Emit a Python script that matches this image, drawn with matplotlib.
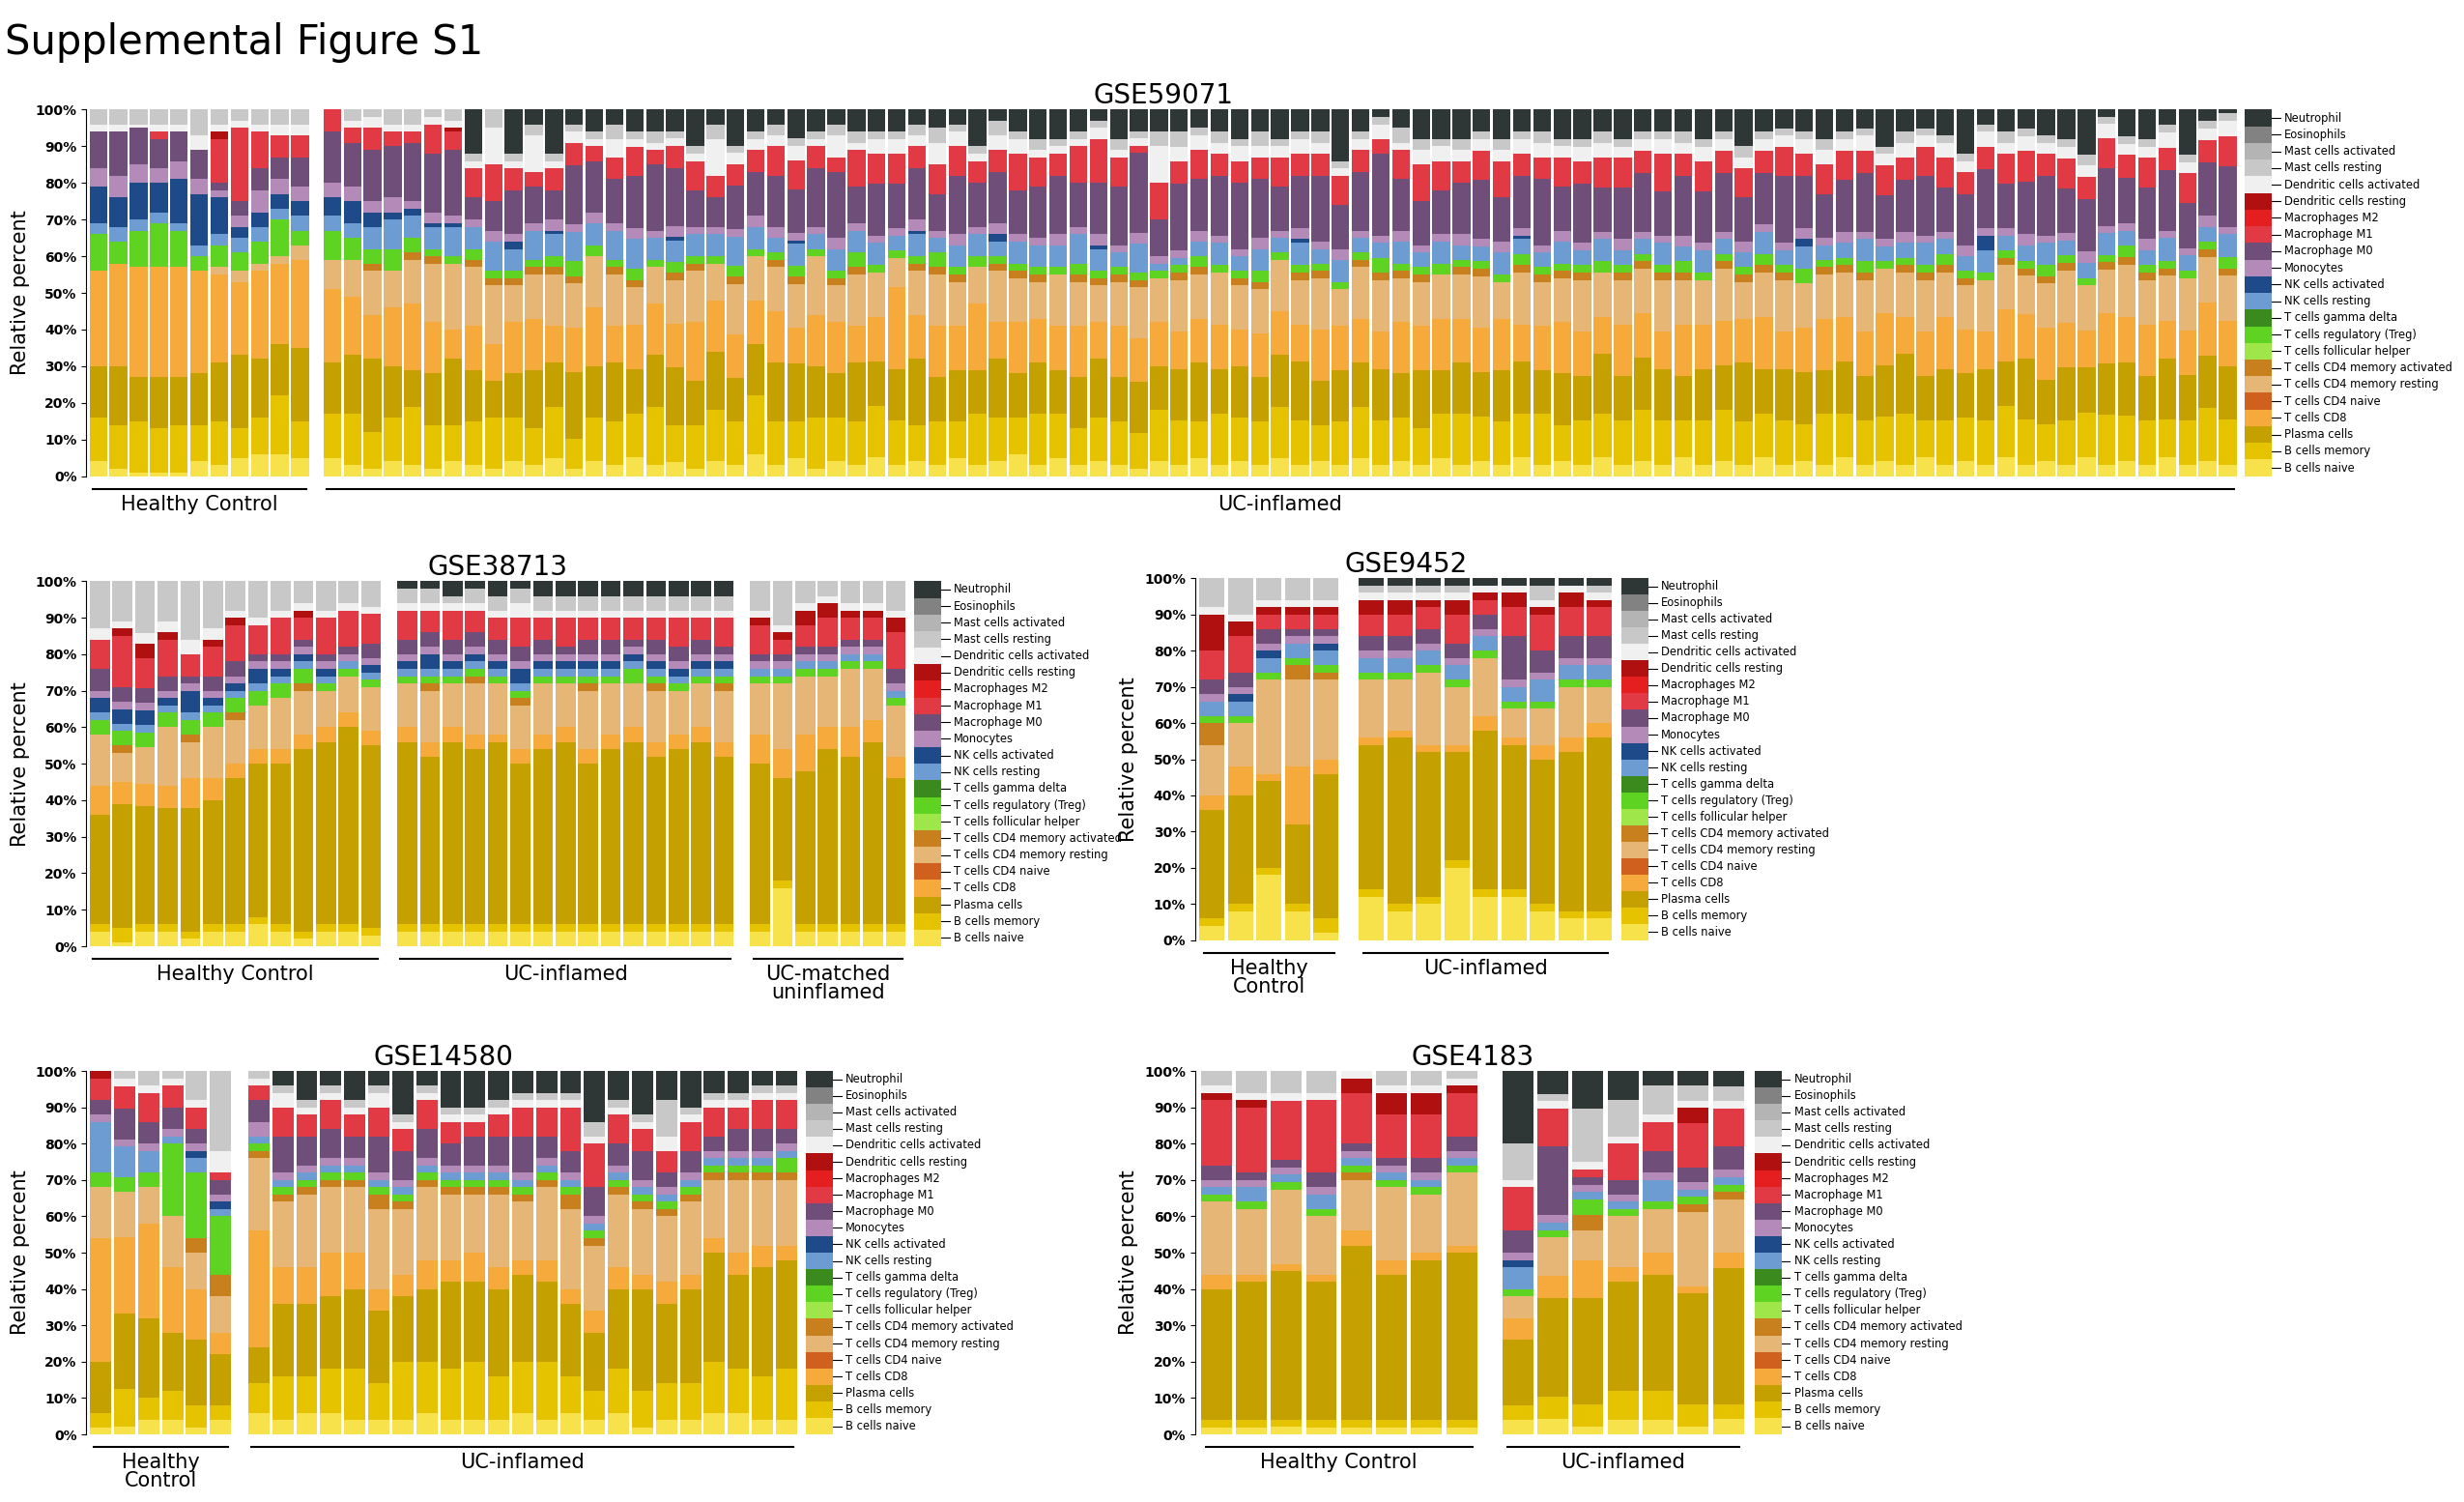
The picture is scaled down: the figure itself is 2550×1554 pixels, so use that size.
import matplotlib
matplotlib.use("Agg")
import matplotlib.pyplot as plt
import numpy as np

CELLS = ["B cells naive", "B cells memory", "Plasma cells", "T cells CD8", "T cells CD4 naive",
         "T cells CD4 memory resting", "T cells CD4 memory activated", "T cells follicular helper",
         "T cells regulatory (Treg)", "T cells gamma delta", "NK cells resting", "NK cells activated",
         "Monocytes", "Macrophage M0", "Macrophage M1", "Macrophages M2", "Dendritic cells resting",
         "Dendritic cells activated", "Mast cells resting", "Mast cells activated", "Eosinophils", "Neutrophil"]
COLORS = ["#f7e24c", "#e6c300", "#c4a000", "#f7aa3c", "#d0601e", "#e6b677", "#c8801e", "#9ee64a",
          "#5fd322", "#3a8a1e", "#6c9cd2", "#1f4a8a", "#b48ab8", "#6f4f7a", "#e23a44", "#e51f1f",
          "#b01010", "#f0f0f0", "#c8c8c8", "#b4b4b4", "#828282", "#2e3636"]
# per-bar columns (estimates): Bn Bm Pl CD8 CD4r CD4a Treg NKr NKa Mo M0 M1 DCr DCa Mast Neut
COLS = [0, 1, 2, 3, 5, 6, 8, 10, 11, 12, 13, 14, 16, 17, 18, 21]

gse59071_hc = [
    [4,12,14,26,0,0,10,3,10,5,10,0,0,2,4,0], [2,12,16,28,0,0,6,4,8,6,12,0,0,2,4,0],
    [1,14,12,30,0,0,10,3,10,5,10,0,0,1,4,0], [1,12,14,30,0,0,12,3,8,4,8,2,0,2,4,0],
    [1,13,13,30,0,0,10,2,12,5,8,0,0,2,4,0], [4,10,14,28,0,0,4,3,14,4,8,0,0,4,7,0],
    [3,12,16,24,2,0,6,3,10,2,2,12,2,2,4,0], [5,8,20,20,3,0,5,4,3,3,4,20,0,2,3,0],
    [6,10,16,24,2,0,6,4,4,6,6,10,0,2,4,0], [6,16,14,22,2,0,10,3,4,4,6,6,0,3,4,0],
    [5,10,20,24,4,0,4,4,4,4,8,6,0,3,4,0]]
gse59071_uc = [
    [5,12,14,20,8,0,8,4,5,4,14,6,0,0,0,0], [3,14,16,16,10,0,6,4,6,4,12,4,0,2,3,0],
    [2,10,20,12,12,2,4,6,4,3,14,6,0,3,2,0], [4,12,14,16,10,0,6,8,2,4,14,4,0,2,4,0],
    [3,16,10,18,12,2,4,6,2,2,16,3,0,2,4,0], [2,12,14,14,16,2,2,6,1,3,16,8,0,2,2,0],
    [4,10,18,8,18,0,2,8,1,2,18,5,1,2,3,0], [3,12,14,12,16,2,3,6,0,2,6,8,0,2,2,12],
    [2,14,10,10,16,2,2,8,0,3,8,10,0,10,5,0], [4,12,12,14,10,2,2,6,2,2,12,6,0,2,2,12],
    [3,10,16,14,12,2,2,8,0,2,10,4,0,10,3,4], [5,14,12,10,14,2,3,6,1,3,8,6,0,2,2,12],
    [2,8,18,12,12,2,4,8,0,2,16,6,0,3,2,4], [4,12,14,16,14,0,3,6,0,3,14,4,0,2,2,6],
    [3,12,16,10,14,2,2,8,0,2,12,6,0,5,4,4], [5,12,12,12,10,2,3,8,0,3,14,8,0,2,2,6],
    [3,16,14,14,10,0,2,6,0,2,18,4,0,2,3,6], [4,10,16,12,12,2,3,6,1,3,16,6,0,2,2,6],
    [2,12,12,16,14,2,2,6,0,2,10,8,0,2,2,10], [4,14,16,14,10,0,2,6,0,2,8,6,0,10,4,4],
    [3,12,12,12,14,2,3,8,0,2,12,6,0,3,2,10], [6,16,14,12,12,0,2,6,0,3,12,6,0,3,2,6],
    [3,12,16,14,12,2,2,4,0,3,14,8,0,3,3,4], [5,10,16,10,12,2,3,6,1,2,12,8,0,4,2,8],
    [2,14,14,14,16,0,2,4,0,2,16,6,0,2,2,6], [4,12,12,14,10,2,2,6,0,3,18,4,0,6,3,4],
    [3,12,16,10,14,2,4,6,0,2,10,10,0,2,3,6], [5,14,12,12,12,0,2,6,0,2,14,8,0,4,2,6],
    [3,12,14,22,8,0,2,4,0,2,12,8,0,4,2,6], [4,10,18,12,12,2,2,6,1,3,14,6,0,3,3,4],
    [3,12,12,14,14,2,4,4,0,2,10,8,0,6,4,5], [5,10,14,12,12,2,2,6,0,3,16,8,0,4,2,4],
    [3,14,12,18,10,0,3,6,0,2,12,6,0,2,2,10], [4,12,16,10,14,2,2,4,2,3,14,6,0,4,4,3],
    [6,10,12,14,12,2,2,6,0,2,12,10,0,4,2,6], [3,14,14,12,10,2,2,6,0,2,14,8,0,2,3,8],
    [5,12,12,12,14,0,2,6,0,3,16,6,0,2,2,8], [3,10,14,14,12,2,3,8,0,2,12,10,0,2,2,6],
    [4,12,16,10,10,2,2,6,1,3,14,12,0,3,2,3], [3,12,12,14,12,2,2,4,0,2,16,8,0,2,3,8],
    [2,10,14,12,14,2,2,8,0,3,22,2,0,2,2,6], [4,14,12,12,12,0,2,2,0,2,10,10,0,10,4,6],
    [3,12,14,10,14,2,2,2,0,2,18,6,0,4,4,6], [5,10,16,12,12,2,3,4,0,3,14,8,0,4,2,5],
    [3,14,12,12,14,0,2,6,0,2,16,6,0,3,3,6], [4,12,14,10,12,2,2,4,0,2,18,6,0,4,2,8],
    [3,12,12,12,12,2,3,6,0,3,16,6,0,3,4,6], [5,14,14,12,14,0,2,4,0,2,12,8,0,3,2,8],
    [3,12,16,10,12,2,2,6,1,3,14,6,0,4,2,6], [4,10,12,14,14,2,2,4,0,2,18,6,0,3,3,6],
    [3,12,14,12,10,0,2,6,0,3,12,8,0,2,2,14], [5,14,12,12,14,2,2,4,0,2,16,6,0,3,2,6],
    [3,12,14,10,14,2,4,4,0,2,22,4,0,4,2,2], [4,12,12,14,12,2,2,6,0,3,14,8,0,2,4,5],
    [3,10,16,12,12,2,2,4,0,2,12,10,0,4,3,8], [5,12,12,14,12,0,3,6,0,2,12,8,0,4,2,8],
    [3,14,14,12,12,2,2,4,0,3,14,6,0,3,3,8], [4,12,12,12,14,2,2,4,0,2,16,8,0,3,2,6],
    [3,12,14,14,10,0,2,6,0,3,12,10,0,3,3,8], [5,12,14,10,14,2,3,4,1,2,14,6,0,4,2,6],
    [3,14,12,12,12,2,2,4,0,2,18,6,0,4,3,6], [4,10,14,14,12,2,2,6,0,3,12,8,0,3,2,8],
    [3,12,12,12,14,2,2,4,0,2,16,6,0,4,2,8], [5,12,16,10,12,0,3,6,0,2,12,8,0,4,3,6],
    [3,12,12,14,12,2,2,4,0,3,14,8,0,3,2,8], [4,14,14,12,12,2,2,4,0,2,16,6,0,3,2,6],
    [3,12,14,10,14,2,2,6,0,2,12,10,0,4,2,6], [5,10,12,14,12,2,3,4,0,3,16,6,0,3,3,6],
    [3,12,14,12,12,0,2,6,0,2,14,8,0,4,2,8], [4,14,12,12,14,2,2,4,0,2,16,6,0,3,2,6],
    [3,12,16,12,10,2,2,4,0,3,12,8,0,3,3,10], [5,12,12,14,12,2,3,6,0,2,14,6,0,3,2,6],
    [3,12,14,10,14,2,2,4,0,2,18,8,0,3,2,5], [4,10,14,12,12,0,4,6,2,3,14,6,0,4,2,6],
    [3,14,12,14,12,2,2,4,0,2,12,8,0,4,3,8], [5,12,14,12,12,2,2,4,0,3,14,8,0,3,2,6],
    [3,12,12,12,14,2,3,6,0,2,16,6,0,4,2,5], [4,12,14,14,12,0,2,4,0,2,12,8,0,3,2,10],
    [3,14,16,10,12,2,2,4,0,3,14,6,0,4,3,6], [5,10,12,12,14,2,2,6,0,2,16,8,0,3,2,5],
    [3,12,14,14,12,2,3,4,0,2,12,8,0,4,2,7], [4,12,12,12,12,2,2,4,0,3,14,6,0,3,2,12],
    [3,12,14,10,14,0,2,6,4,2,16,6,0,4,2,4], [5,14,12,14,12,2,2,4,0,2,12,8,0,3,3,6],
    [3,12,16,12,10,2,2,4,0,3,14,8,0,4,2,5], [4,10,12,14,12,2,3,6,0,2,16,6,0,3,2,7],
    [3,12,14,12,14,2,2,4,0,2,12,8,0,3,2,8], [5,12,12,10,12,0,2,4,0,3,14,6,0,3,3,12],
    [3,14,14,14,12,2,2,6,0,2,16,8,0,4,2,2], [4,12,14,12,14,2,3,4,0,2,12,6,0,3,2,7],
    [3,12,12,14,12,2,2,4,0,3,14,8,0,3,2,8], [5,10,16,10,12,2,2,6,0,2,16,6,0,4,2,4],
    [3,12,12,12,14,0,2,4,0,2,12,8,0,3,2,12], [4,14,14,14,12,2,2,4,0,3,14,6,0,3,2,3],
    [3,12,14,12,12,2,3,6,0,2,16,8,0,4,2,1]]

gse38713_hc = [
    [4,2,30,8,14,0,4,2,4,2,6,8,0,3,13,0], [1,4,34,6,8,2,4,2,4,2,4,14,2,2,11,0],
    [4,2,32,6,10,0,4,2,4,2,4,8,4,3,14,0], [4,2,32,6,16,0,4,2,2,2,4,10,2,3,11,0],
    [2,2,34,8,10,2,4,2,6,2,2,6,0,4,16,0], [4,2,34,6,14,0,4,2,2,2,4,8,2,3,13,0],
    [4,2,40,4,12,2,4,2,2,2,4,10,2,2,8,0], [6,2,42,4,12,0,4,2,4,2,2,8,0,2,10,0],
    [4,2,44,4,14,0,4,2,2,2,2,10,0,2,8,0], [2,2,50,4,12,2,4,2,2,2,2,6,2,2,6,0],
    [4,2,50,4,10,0,2,2,2,2,2,10,0,2,8,0], [4,2,54,4,10,0,2,2,0,2,2,10,0,2,6,0],
    [3,2,50,4,12,0,2,2,2,2,4,8,0,2,7,0]]
gse38713_uc = [
    [4,2,50,4,12,0,2,2,2,2,4,8,0,2,4,2], [4,2,46,4,14,2,2,2,4,2,4,6,0,2,4,2],
    [4,2,50,4,12,0,2,2,2,2,4,8,0,2,2,4], [4,2,48,4,14,2,2,2,2,2,4,6,0,2,4,2],
    [4,2,50,2,14,0,2,2,2,2,4,6,0,2,4,4], [4,2,44,4,12,2,2,2,4,2,4,8,0,4,4,2],
    [4,2,48,4,14,0,2,2,2,2,4,6,0,2,4,4], [4,2,50,4,12,0,2,2,2,2,2,8,0,2,4,4],
    [4,2,44,4,16,2,2,2,2,2,4,6,0,2,4,4], [4,2,48,4,14,0,2,2,2,2,4,6,0,2,4,4],
    [4,2,50,4,12,0,4,2,2,2,2,6,0,2,4,4], [4,2,46,4,14,2,2,2,2,2,4,6,0,2,4,4],
    [4,2,48,4,12,0,2,2,2,2,4,8,0,2,4,4], [4,2,50,4,12,0,2,2,2,2,4,6,0,2,4,4],
    [4,2,46,4,14,2,2,2,2,2,2,8,0,2,4,4]]
gse38713_um = [
    [4,2,44,8,14,0,2,2,0,2,2,8,2,2,8,0], [16,2,28,8,18,0,2,2,0,2,2,4,2,2,12,0],
    [4,2,42,10,16,0,2,2,0,2,2,6,4,2,6,0], [4,2,48,6,14,0,2,2,0,2,2,8,4,2,4,0],
    [4,2,46,8,16,0,2,2,0,2,2,6,2,2,6,0], [4,2,50,6,14,0,2,2,0,2,2,6,2,2,6,0],
    [4,2,40,6,14,0,2,2,0,2,4,10,4,2,8,0]]

gse9452_hc = [
    [4,2,30,4,14,6,2,4,0,2,4,8,10,2,8,0], [8,2,30,8,12,0,2,4,2,2,4,10,4,2,10,0],
    [18,2,24,2,26,0,2,4,2,2,4,4,2,2,6,0], [8,2,22,16,24,4,2,4,0,2,2,4,2,2,6,0],
    [2,4,40,4,22,2,2,4,2,2,2,4,2,2,6,0]]
gse9452_uc = [
    [12,2,40,2,16,0,2,4,0,2,4,6,4,2,2,2], [8,2,46,2,14,0,2,4,0,2,4,6,4,2,2,2],
    [10,2,40,2,20,0,2,4,0,2,4,6,2,2,2,2], [20,2,30,2,16,0,2,4,0,2,4,8,4,2,2,2],
    [12,2,44,4,16,0,2,4,0,2,4,4,2,2,0,2], [12,2,40,2,8,0,2,4,0,2,12,8,4,2,0,2],
    [8,2,40,4,10,0,2,6,0,2,6,10,2,2,4,2], [6,2,44,4,14,0,2,4,0,2,6,8,4,2,0,2],
    [6,2,48,4,10,0,2,4,0,2,6,8,2,2,2,2]]

gse14580_hc = [
    [2,4,14,34,14,0,4,14,0,2,4,6,2,0,0,0], [2,10,20,20,12,0,4,8,0,2,8,6,0,2,2,0],
    [4,6,22,26,10,0,4,6,0,2,6,8,0,2,4,0], [4,8,16,18,14,0,20,2,0,2,6,6,0,2,2,0],
    [2,6,18,14,10,4,18,4,2,2,4,6,0,2,8,0], [4,4,14,6,10,6,16,2,2,2,4,2,0,6,22,0]]
gse14580_uc = [
    [6,8,10,32,20,2,2,2,0,4,6,4,0,2,2,0], [4,12,20,10,18,2,2,2,0,2,10,8,0,4,2,4],
    [6,10,20,10,20,2,2,2,0,2,8,6,0,2,2,8], [6,12,20,12,18,2,2,2,0,2,8,8,0,2,2,4],
    [4,14,22,10,18,2,2,2,0,2,6,6,0,2,2,8], [4,10,20,6,22,4,2,2,0,2,10,8,0,4,2,4],
    [4,16,18,6,18,2,2,2,0,2,8,6,0,2,2,12], [6,14,20,8,20,2,2,2,0,2,8,8,0,2,2,4],
    [4,14,24,6,18,2,2,2,0,2,6,6,0,2,2,10], [4,16,22,8,16,2,2,2,0,2,8,4,0,2,2,10],
    [4,12,24,6,20,2,2,2,0,2,8,6,0,2,2,8], [6,14,24,4,16,2,2,2,0,2,10,8,0,2,2,6],
    [4,16,22,6,20,2,2,2,0,2,6,8,0,2,2,6], [6,10,20,4,22,4,2,2,0,2,6,12,0,2,2,6],
    [4,8,16,6,18,2,2,2,0,2,8,12,0,2,4,14], [6,12,22,6,20,2,2,2,0,2,6,8,0,2,2,8],
    [2,10,28,4,18,2,2,2,0,2,8,6,0,2,2,12], [4,10,22,6,18,2,2,2,0,2,4,6,0,4,10,8],
    [4,10,26,4,20,2,2,2,0,2,6,8,0,2,2,10], [6,14,30,4,16,2,2,2,0,2,4,8,0,2,2,6],
    [6,12,26,6,20,2,2,2,0,2,6,6,0,2,2,6], [4,12,30,6,18,2,2,2,0,2,6,8,0,2,2,4],
    [4,14,30,4,18,2,4,2,0,2,4,8,0,2,2,4]]

gse4183_hc = [
    [2,2,36,4,20,0,2,2,0,2,4,18,2,2,4,0], [2,2,38,2,18,0,2,4,0,2,2,18,2,2,6,0],
    [2,2,40,2,20,0,2,2,0,2,2,16,0,2,6,0], [2,2,38,2,16,0,2,4,0,2,4,20,0,2,6,0],
    [2,2,48,4,14,2,2,2,0,2,2,14,4,2,0,0], [2,2,40,4,20,0,2,2,0,2,2,12,6,2,4,0],
    [2,2,44,2,16,0,2,2,0,2,4,12,6,2,4,0], [2,2,46,2,20,0,2,2,0,2,4,12,2,2,2,0]]
gse4183_uc = [
    [4,4,18,6,6,0,2,6,2,2,6,12,0,2,10,20], [4,6,26,6,10,0,2,2,0,2,18,10,0,2,2,6],
    [2,6,28,10,8,4,4,2,0,2,2,2,0,2,14,10], [4,8,30,4,14,0,2,2,0,2,4,10,0,2,10,8],
    [4,8,32,6,12,0,2,6,0,2,6,8,0,2,8,4], [2,6,30,2,20,2,2,2,0,2,4,12,4,2,4,4],
    [4,4,36,4,14,2,2,2,0,2,6,10,0,2,4,4]]

PANELS = [
    ("GSE59071", [0.035, 0.683, 0.874, 0.244], 0.911,
     [("Healthy Control", gse59071_hc), ("UC-inflamed", gse59071_uc)]),
    ("GSE38713", [0.035, 0.370, 0.334, 0.243], 0.371,
     [("Healthy Control", gse38713_hc), ("UC-inflamed", gse38713_uc), ("UC-matched\nuninflamed", gse38713_um)]),
    ("GSE9452", [0.485, 0.374, 0.171, 0.241], 0.658,
     [("Healthy\nControl", gse9452_hc), ("UC-inflamed", gse9452_uc)]),
    ("GSE14580", [0.035, 0.045, 0.290, 0.242], 0.327,
     [("Healthy\nControl", gse14580_hc), ("UC-inflamed", gse14580_uc)]),
    ("GSE4183", [0.485, 0.045, 0.225, 0.242], 0.712,
     [("Healthy Control", gse4183_hc), ("UC-inflamed", gse4183_uc)]),
]

fig = plt.figure(figsize=(25.5, 15.54), dpi=100)
fig.text(0.002, 0.985, "Supplemental Figure S1", fontsize=30, va="top", ha="left")

for title, rect, legx, groups in PANELS:
    ax = fig.add_axes(rect)
    x0 = 0.0
    for gi, (label, rows) in enumerate(groups):
        mat = np.zeros((len(rows), len(CELLS)))
        mat[:, COLS] = np.array(rows, dtype=float)
        mat = mat / mat.sum(axis=1, keepdims=True)
        xs = x0 + np.arange(len(rows))
        bottom = np.zeros(len(rows))
        for k in range(len(CELLS)):
            ax.bar(xs, mat[:, k], bottom=bottom, width=0.88, color=COLORS[k], linewidth=0)
            bottom += mat[:, k]
        ax.plot([xs[0] - 0.3, xs[-1] + 0.3], [-0.035, -0.035], color="black", lw=1.5, clip_on=False)
        ax.text((xs[0] + xs[-1]) / 2, -0.05, label, ha="center", va="top", fontsize=15,
                transform=ax.transData, linespacing=0.95)
        x0 = xs[-1] + 1.6
    ax.set_xlim(-0.6, x0 - 1.0)
    ax.set_ylim(0, 1.0)
    ax.set_yticks(np.arange(0, 1.01, 0.1))
    ax.set_yticklabels([f"{int(v)}%" for v in np.arange(0, 101, 10)], fontsize=10, fontweight="bold")
    ax.set_xticks([])
    for s in ["top", "right", "bottom"]:
        ax.spines[s].set_visible(False)
    ax.set_ylabel("Relative percent", fontsize=15)
    ax.set_title(title, fontsize=20, pad=4)

    # legend column
    lax = fig.add_axes([legx, rect[1], 0.085, rect[3]])
    n = len(CELLS)
    for k in range(n):
        lax.add_patch(plt.Rectangle((0, k), 0.13, 1, color=COLORS[k], lw=0))
        lax.plot([0.13, 0.17], [k + 0.5, k + 0.5], color="black", lw=0.8)
        lax.text(0.19, k + 0.5, CELLS[k], fontsize=8.3, va="center", ha="left")
    lax.set_xlim(0, 1)
    lax.set_ylim(0, n)
    lax.axis("off")

fig.savefig("out.png", dpi=100)
